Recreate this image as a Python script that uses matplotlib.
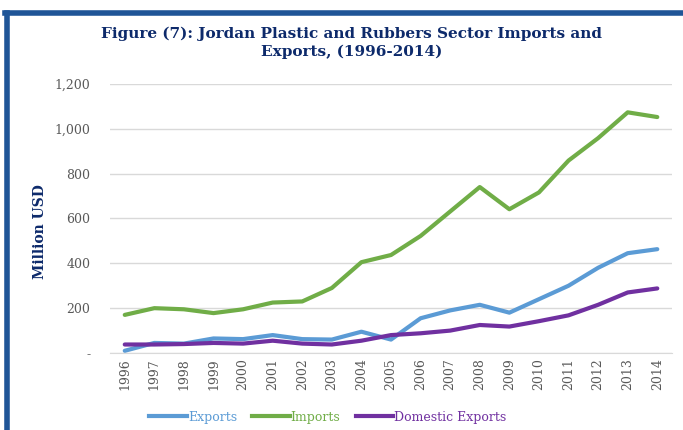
import matplotlib.pyplot as plt
from matplotlib.lines import Line2D
from matplotlib.ticker import FuncFormatter

years = [str(y) for y in range(1996, 2015)]
exports = [10, 45, 42, 65, 62, 80, 62, 60, 95, 60, 155, 190, 215, 180, 240, 300, 380, 445, 463]
imports = [170, 200, 195, 178, 195, 225, 230, 290, 405, 437, 522, 631, 740, 641, 716, 858, 958, 1073, 1052]
domestic = [38, 38, 40, 45, 42, 55, 42, 38, 55, 80, 88, 100, 125, 118, 142, 168, 215, 270, 288]

navy = '#0d2a6b'
frame = '#1f5597'

fig = plt.figure(figsize=(6.83, 4.30), dpi=100)
ax = fig.add_axes([0.161, 0.179, 0.823, 0.626])

x = range(len(years))
ax.plot(x, exports, color='#5b9bd5', lw=3, label='Exports', solid_capstyle='round')
ax.plot(x, imports, color='#70ad47', lw=3, label='Imports', solid_capstyle='round')
ax.plot(x, domestic, color='#7030a0', lw=3, label='Domestic Exports', solid_capstyle='round')

ax.set_xlim(-0.5, len(years) - 0.5)
ax.set_ylim(0, 1200)
ax.set_yticks(range(0, 1201, 200))
ax.yaxis.set_major_formatter(FuncFormatter(lambda v, p: '-' if v == 0 else f'{int(v):,}'))
ax.set_xticks(list(x))
ax.set_xticklabels(years, rotation=90)
ax.tick_params(axis='both', length=0, labelsize=9, labelcolor='#595959')
ax.tick_params(axis='y', pad=14)
for lab in ax.get_xticklabels() + ax.get_yticklabels():
    lab.set_family('DejaVu Serif')
ax.grid(axis='y', color='#d9d9d9', lw=1)
ax.set_axisbelow(True)
for s in ['top', 'right', 'left']:
    ax.spines[s].set_visible(False)
ax.spines['bottom'].set_color('#d9d9d9')

ax.set_ylabel('Million USD', family='DejaVu Serif', fontweight='bold', color=navy, fontsize=10)
ax.yaxis.set_label_coords(-0.112, 0.45)

fig.text(0.515, 0.9, 'Figure (7): Jordan Plastic and Rubbers Sector Imports and\nExports, (1996-2014)',
         ha='center', va='center', family='DejaVu Serif', fontweight='bold', color=navy,
         fontsize=11, linespacing=1.35)

handles = [Line2D([], [], color='#5b9bd5', lw=3),
           Line2D([], [], color='#70ad47', lw=3),
           Line2D([], [], color='#7030a0', lw=3)]
leg = fig.legend(handles, ['Exports', 'Imports', 'Domestic Exports'], loc='center',
                 bbox_to_anchor=(0.48, 0.03), ncol=3, frameon=False, handlelength=3,
                 handletextpad=0.1, columnspacing=1.2, prop={'family': 'DejaVu Serif', 'size': 9})
for t, c in zip(leg.get_texts(), ['#5b9bd5', '#70ad47', '#7030a0']):
    t.set_color(c)

fig.add_artist(Line2D([0.008, 1.0], [0.97, 0.97], color=frame, lw=4, transform=fig.transFigure))
fig.add_artist(Line2D([0.01, 0.01], [0.0, 0.97], color=frame, lw=4, transform=fig.transFigure))

fig.savefig('out.png', dpi=100)
